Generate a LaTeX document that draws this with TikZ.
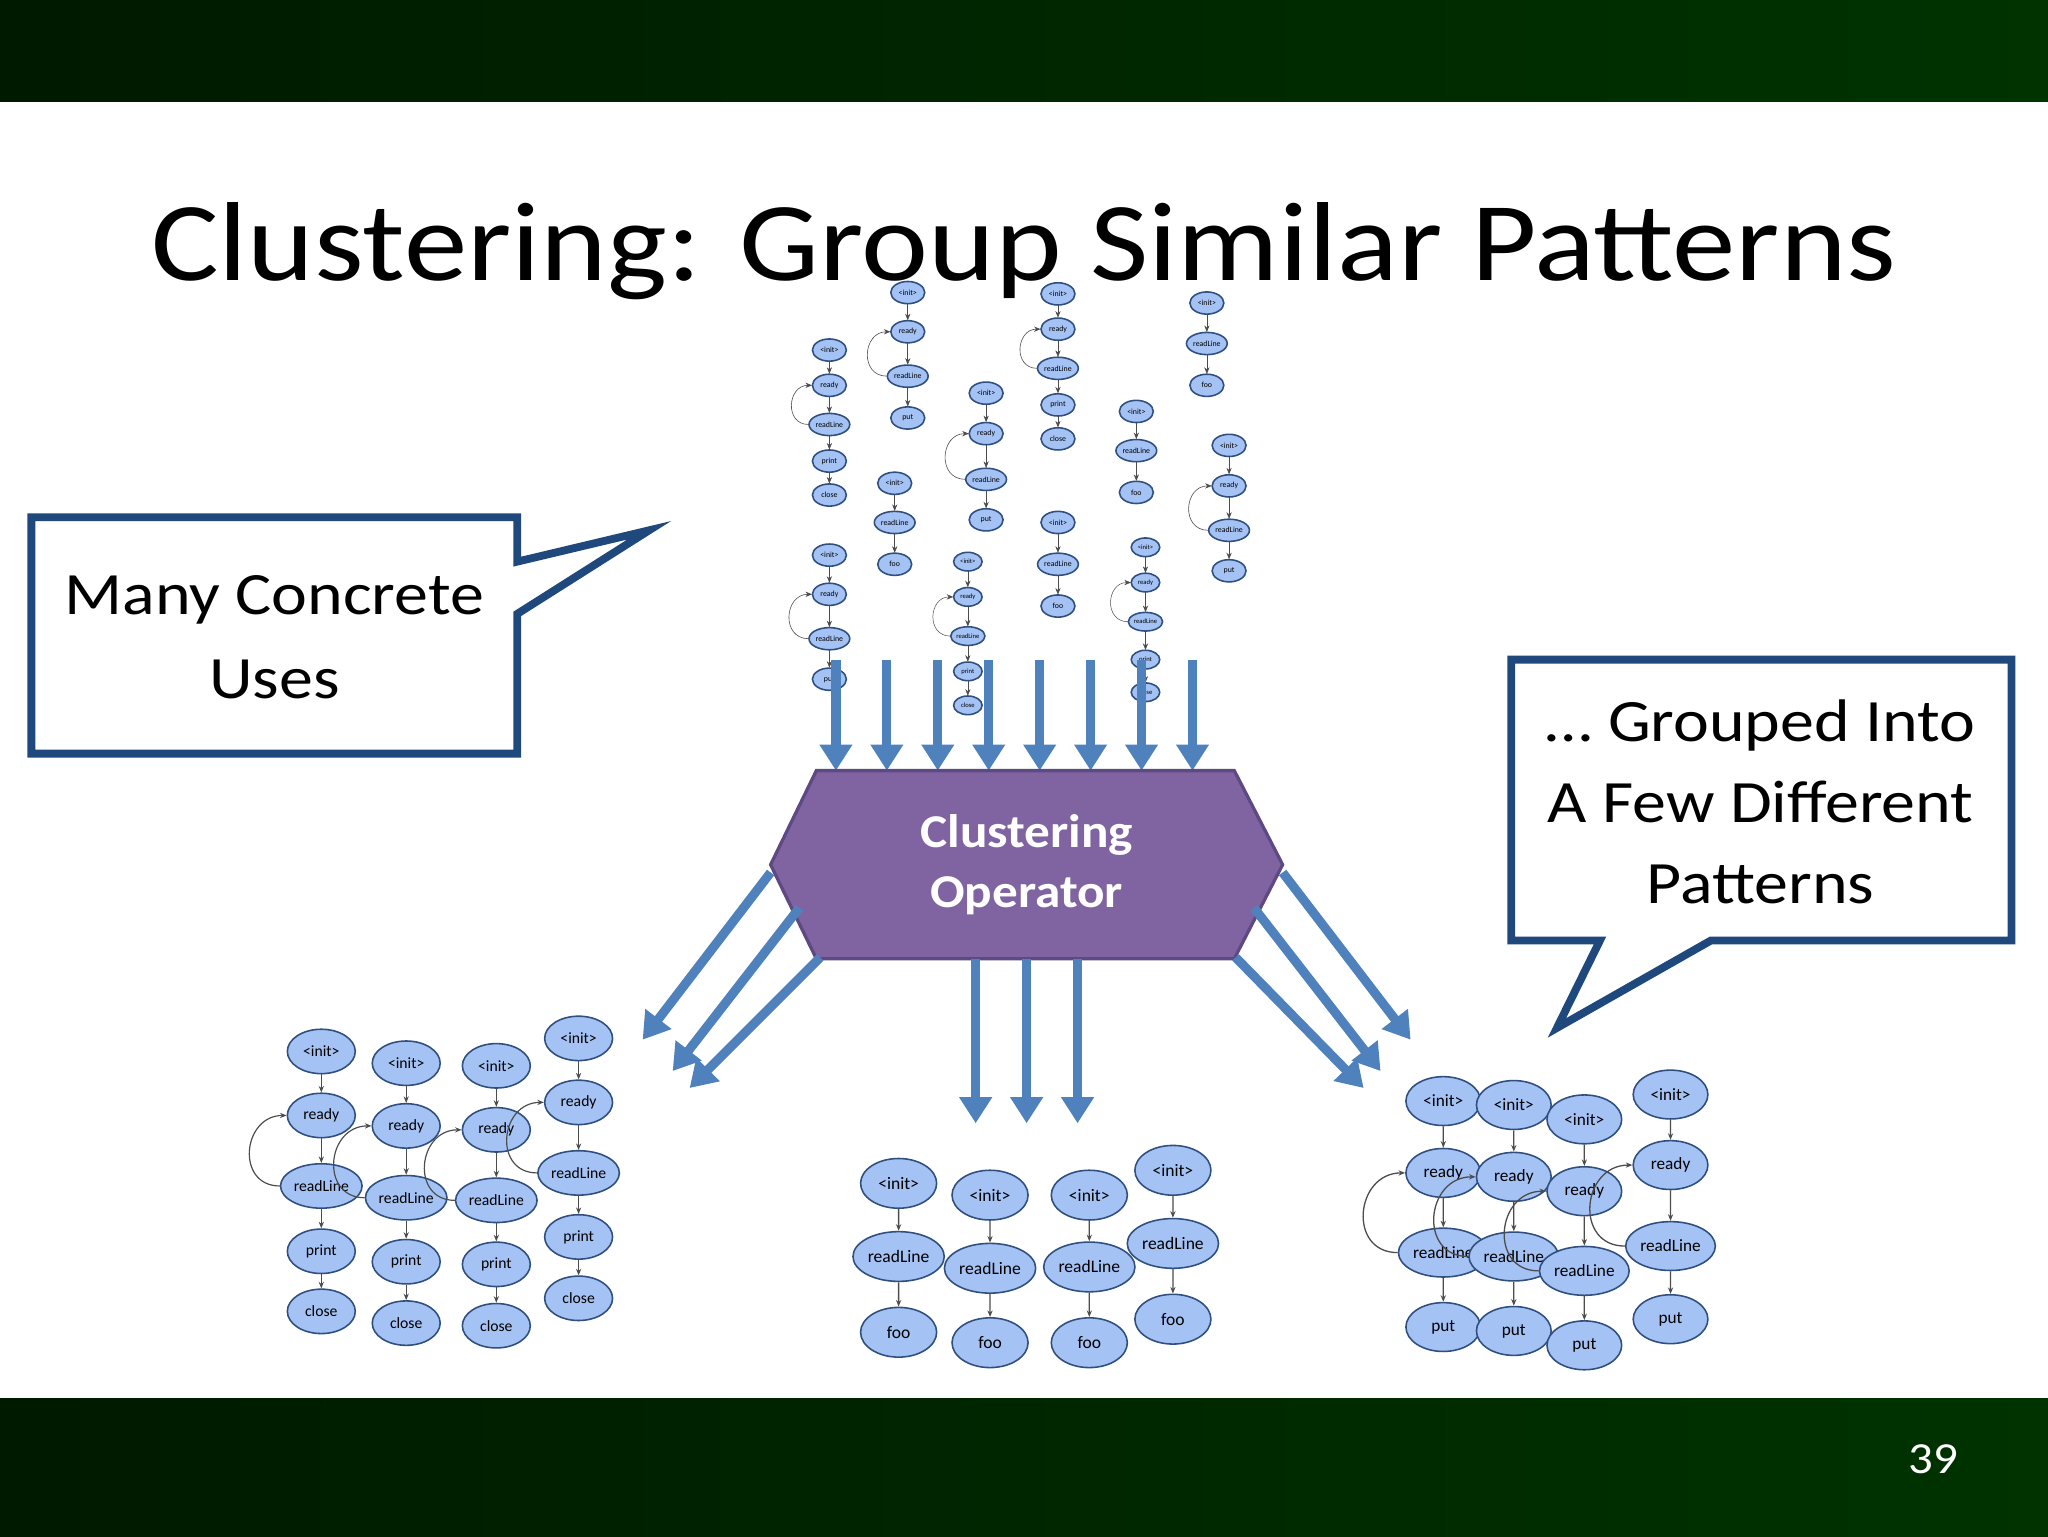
\documentclass[tikz,border=0pt]{standalone}
\usepackage{fontspec}
\setmainfont{Carlito}
\usetikzlibrary{shapes.geometric,arrows.meta}
\definecolor{nfill}{HTML}{A4C2F4}
\definecolor{ndraw}{HTML}{2F4F7F}
\definecolor{barrow}{HTML}{4F81BD}
\definecolor{hexf}{HTML}{8064A2}
\definecolor{hexd}{HTML}{5E4A82}
\definecolor{callb}{HTML}{1F497D}
\tikzset{
 gn/.style={ellipse,draw=ndraw,fill=nfill,line width=1.2pt,minimum width=52pt,minimum height=34pt,inner sep=1pt,font=\fontsize{12}{12}\selectfont},
 ge/.style={-{Stealth[length=5pt,width=4pt]},draw=black!70,line width=0.8pt},
 bigarrow/.style={draw=barrow,line width=7pt,-{Triangle[length=20pt,width=24pt]}},
 callout/.style={draw=callb,line width=6pt,fill=white,line join=miter},
}
\newcommand\gchain[4]{%
 \foreach [count=\i] \yy/\lab in {#4} {
   \node[gn,scale=#3] (#1-\i) at (#2,\yy) {\lab};
   \ifnum\i>1
     \pgfmathtruncatemacro\pv{\i-1}
     \draw[ge,line width=#3*0.9pt] (#1-\pv) -- (#1-\i);
   \fi
 }}
\newcommand\gloop[2]{\draw[ge,line width=#2*0.9pt] (#1-3.west) to[out=180,in=180,looseness=1.6] (#1-2.west);}
\begin{document}
\begin{tikzpicture}[x=1pt,y=-1pt]
\path[use as bounding box,fill=white] (0,0) rectangle (1568,1176);
\shade[left color=black!90!green,right color=green!20!black] (0,0) rectangle (1568,78);
\shade[left color=black!90!green,right color=green!20!black] (0,1071) rectangle (1568,1176);
\node[text=white,font=\fontsize{34}{34}\selectfont,xscale=1.1] (pg) at (1480,1117) {39};
\node[font=\fontsize{86}{86}\selectfont,xscale=1.13] (title) at (784,192) {Clustering: Group Similar Patterns};
% top concrete uses
\gchain{t1}{635}{0.5}{268/<init>,295/ready,325/readLine,353/print,379/close}\gloop{t1}{0.5}
\gchain{t2}{695}{0.5}{224/<init>,254/ready,288/readLine,320/put}\gloop{t2}{0.5}
\gchain{t3}{685}{0.5}{370/<init>,400/readLine,432/foo}
\gchain{t4}{755}{0.5}{301/<init>,332/ready,367/readLine,398/put}\gloop{t4}{0.5}
\gchain{t5}{810}{0.5}{225/<init>,252/ready,282/readLine,310/print,336/close}\gloop{t5}{0.5}
\gchain{t6}{924}{0.5}{232/<init>,263/readLine,295/foo}
\gchain{t7}{870}{0.5}{315/<init>,345/readLine,377/foo}
\gchain{t8}{941}{0.5}{341/<init>,372/ready,406/readLine,437/put}\gloop{t8}{0.5}
\gchain{t9}{810}{0.5}{400/<init>,432/readLine,464/foo}
\gchain{t10}{635}{0.5}{425/<init>,455/ready,489/readLine,520/put}\gloop{t10}{0.5}
\gchain{t11}{741}{0.42}{430/<init>,457/ready,487/readLine,514/print,540/close}\gloop{t11}{0.42}
\gchain{t12}{877}{0.42}{419/<init>,446/ready,476/readLine,505/print,530/close}\gloop{t12}{0.42}
% arrows into operator
\foreach \x [count=\k] in {640,679,718,757,796,835,874,913}{
  \coordinate (ia\k) at (\x,505); \coordinate (ib\k) at (\x,590);
  \draw[bigarrow] (ia\k) -- (ib\k);}
% operator
\filldraw[draw=hexd,fill=hexf,line width=2.5pt] (625,590) -- (945,590) -- (982,662) -- (945,734) -- (625,734) -- (590,662) -- cycle;
\node[text=white,font=\bfseries\fontsize{36}{46}\selectfont,align=center,xscale=1.09] (op) at (786,662) {Clustering\\Operator};
% out arrows
\coordinate (l1a) at (590,668); \coordinate (l1b) at (492,796);
\coordinate (l2a) at (612,695); \coordinate (l2b) at (515,820);
\coordinate (l3a) at (628,733); \coordinate (l3b) at (528,833);
\coordinate (r1a) at (982,668); \coordinate (r1b) at (1080,796);
\coordinate (r2a) at (960,695); \coordinate (r2b) at (1057,820);
\coordinate (r3a) at (946,733); \coordinate (r3b) at (1044,833);
\foreach \p in {l1,l2,l3,r1,r2,r3}{\draw[bigarrow] (\p a) -- (\p b);}
\foreach \x [count=\k] in {747,786,825}{
  \coordinate (ma\k) at (\x,734); \coordinate (mb\k) at (\x,860);
  \draw[bigarrow] (ma\k) -- (mb\k);}
% bottom-left cluster
\gchain{a}{246}{1}{805/<init>,854/ready,908/readLine,958/print,1004/close}\gloop{a}{1}
\gchain{b}{311}{1}{814/<init>,862/ready,917/readLine,966/print,1013/close}\gloop{b}{1}
\gchain{c}{380}{1}{816/<init>,865/ready,919/readLine,968/print,1015/close}\gloop{c}{1}
\gchain{d}{443}{1}{795/<init>,844/ready,898/readLine,947/print,994/close}\gloop{d}{1}
% middle cluster
\gchain{e}{688}{1.12}{906/<init>,962/readLine,1020/foo}
\gchain{f}{758}{1.12}{915/<init>,971/readLine,1028/foo}
\gchain{g}{834}{1.12}{915/<init>,970/readLine,1028/foo}
\gchain{h}{898}{1.12}{896/<init>,952/readLine,1010/foo}
% right cluster
\gchain{p}{1105}{1.1}{843/<init>,898/ready,959/readLine,1016/put}\gloop{p}{1.1}
\gchain{q}{1159}{1.1}{846/<init>,901/ready,962/readLine,1019/put}\gloop{q}{1.1}
\gchain{r}{1213}{1.1}{857/<init>,912/ready,973/readLine,1030/put}\gloop{r}{1.1}
\gchain{s}{1279}{1.1}{838/<init>,892/ready,954/readLine,1010/put}\gloop{s}{1.1}
% callouts
\draw[callout] (24,396) -- (396,396) -- (396,430) -- (497,406) -- (396,470) -- (396,577) -- (24,577) -- cycle;
\node[font=\fontsize{46}{64}\selectfont,align=center,xscale=1.13] (lc) at (210,488) {Many Concrete\\Uses};
\draw[callout] (1157,505) -- (1540,505) -- (1540,720) -- (1310,720) -- (1192,787) -- (1225,720) -- (1157,720) -- cycle;
\node[font=\fontsize{46}{62}\selectfont,align=center,xscale=1.13] (rc) at (1348,614) {… Grouped Into\\A Few Different\\Patterns};
\end{tikzpicture}
\end{document}
